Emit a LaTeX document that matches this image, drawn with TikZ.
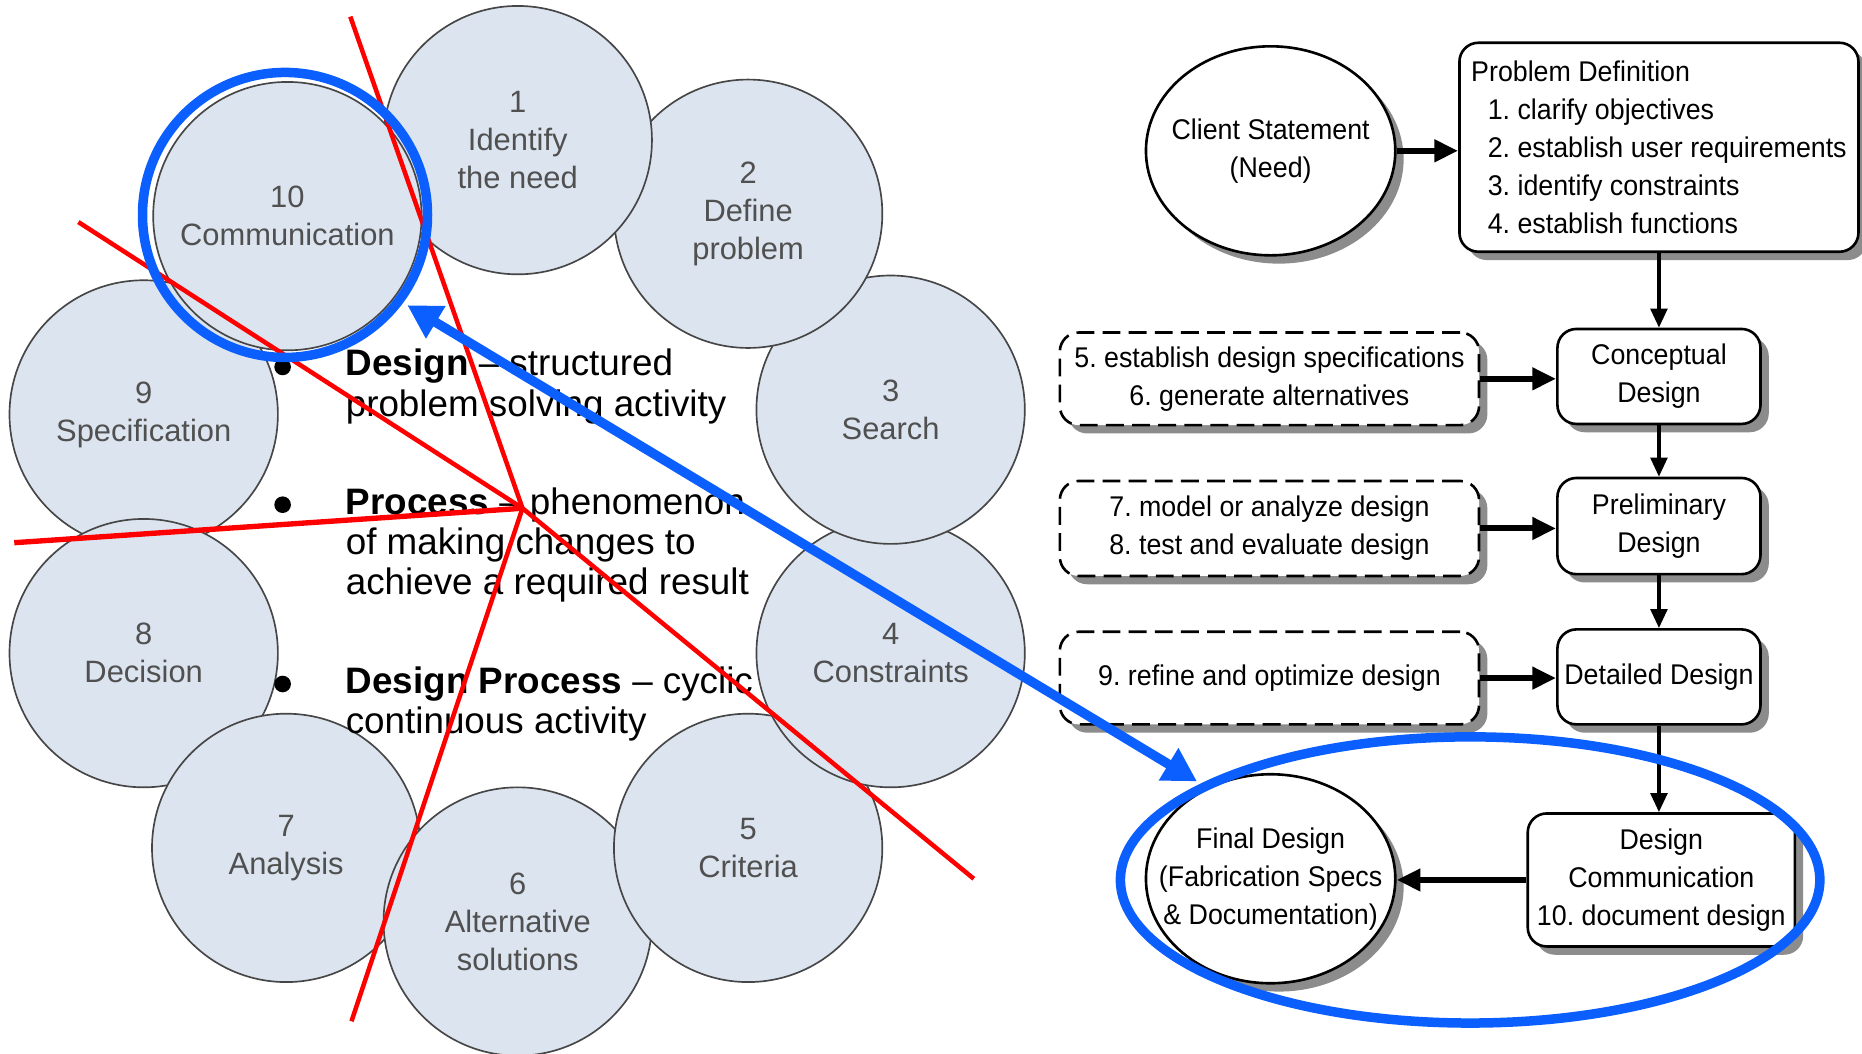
\documentclass[tikz,border=0pt]{standalone}
\usepackage{fontspec}
\setmainfont{Liberation Sans}
\newfontfamily\flowfont[FakeStretch=0.94]{Liberation Sans}
\usetikzlibrary{arrows.meta,shapes.geometric,shadows}
\definecolor{cfill}{RGB}{220,228,239}
\definecolor{ctext}{RGB}{80,80,80}
\definecolor{cline}{RGB}{70,70,70}
\definecolor{myblue}{RGB}{12,95,255}
\definecolor{myred}{RGB}{255,0,0}
\definecolor{shadowgray}{RGB}{140,140,140}
\begin{document}
\frenchspacing
\begin{tikzpicture}[x=1pt,y=-1pt,
  ring/.style={circle,draw=cline,line width=1.4pt,fill=cfill,text=ctext,
    minimum size=226pt,inner sep=0pt,align=center,
    font=\fontsize{26}{32}\selectfont},
  bul/.style={anchor=base west,inner sep=0pt,font=\fontsize{31}{35}\selectfont},
  bdot/.style={circle,fill=black,inner sep=0pt,minimum size=14pt},
  redline/.style={draw=myred,line width=3.8pt},
  shad/.style={drop shadow={shadow xshift=7pt,shadow yshift=-7pt,fill=shadowgray,opacity=1}},
  fbox/.style={draw=black,line width=2.2pt,rounded corners=16pt,fill=white,
    align=center,inner sep=0pt,font=\flowfont\fontsize{24}{32}\selectfont,shad},
  dbox/.style={fbox,dash pattern=on 15pt off 7pt},
  fell/.style={ellipse,draw=black,line width=2.2pt,fill=white,align=center,
    inner xsep=-25pt,inner ysep=0pt,minimum width=210pt,minimum height=176pt,
    font=\flowfont\fontsize{24}{32}\selectfont,shad},
  harr/.style={line width=5pt,-{Triangle[length=20pt,width=18pt]}},
  varr/.style={line width=3pt,-{Triangle[length=16pt,width=14pt]}},
  bluering/.style={draw=myblue,line width=8pt,inner sep=0pt},
  bluearrow/.style={draw=myblue,line width=8pt,
    {Triangle[length=28pt,width=30pt]}-{Triangle[length=28pt,width=30pt]}}
]
\useasboundingbox (0,0) rectangle (1568,887);
\fill[white] (0,0) rectangle (1568,887);

% ---- ring of circles ----
\node[ring] (c9) at (121,349) {9\\Specification};
\node[ring] (c8) at (121,550) {8\\Decision};
\node[ring] (c7) at (241,714) {7\\Analysis};
\node[ring] (c6) at (436,776) {6\\Alternative\\solutions};
\node[ring] (c5) at (630,714) {5\\Criteria};
\node[ring] (c4) at (750,550) {4\\Constraints};
\node[ring] (c3) at (750,345) {3\\Search};
\node[ring] (c2) at (630,180) {2\\Define\\problem};
\node[ring] (c1) at (436,118) {1\\Identify\\the need};
\node[ring] (c10) at (242,182) {10\\Communication};

% ---- bullet text ----
\node[bdot] (g1) at (238,309) {};
\node[bul] (t1a) at (291,316) {\textbf{Design} – structured};
\node[bul] (t1b) at (291,351) {problem solving activity};
\node[bdot] (g2) at (238,425) {};
\node[bul] (t2a) at (291,433) {\textbf{Process} – phenomenon};
\node[bul] (t2b) at (291,467) {of making changes to};
\node[bul] (t2c) at (291,501) {achieve a required result};
\node[bdot] (g3) at (238,576) {};
\node[bul] (t3a) at (291,584) {\textbf{Design Process} – cyclic};
\node[bul] (t3b) at (291,618) {continuous activity};

% ---- red lines ----
\coordinate (hub) at (440,428);
\coordinate (r1) at (295,14);
\coordinate (r2) at (66,187);
\coordinate (r3) at (12,457);
\coordinate (r4) at (296,860);
\coordinate (r5) at (820,740);
\draw[redline] (hub) -- (r1);
\draw[redline] (hub) -- (r2);
\draw[redline,line width=4.5pt] (hub) -- (r3);
\draw[redline] (hub) -- (r4);
\draw[redline] (hub) -- (r5);

% ---- flowchart ----
\node[fell] (cs) at (1070,127) {Client Statement\\(Need)};
\node[fbox,align=left,minimum width=336pt,minimum height=176pt] (pd) at (1397,124)
  {Problem Definition\\
   \hspace*{14pt}1. clarify objectives\\
   \hspace*{14pt}2. establish user requirements\\
   \hspace*{14pt}3. identify constraints\\
   \hspace*{14pt}4. establish functions};
\node[fbox,minimum width=171pt,minimum height=80pt] (cd) at (1397,317) {Conceptual\\Design};
\node[dbox,minimum width=353pt,minimum height=78pt] (d1) at (1069,319)
  {5. establish design specifications\\6. generate alternatives};
\node[fbox,minimum width=171pt,minimum height=81pt] (prd) at (1397,443) {Preliminary\\Design};
\node[dbox,minimum width=353pt,minimum height=80pt] (d2) at (1069,445)
  {7. model or analyze design\\8. test and evaluate design};
\node[fbox,minimum width=171pt,minimum height=80pt] (dd) at (1397,570) {Detailed Design};
\node[dbox,minimum width=353pt,minimum height=78pt] (d3) at (1069,571)
  {9. refine and optimize design};
\node[fbox,minimum width=225pt,minimum height=112pt] (dc) at (1399,741)
  {Design\\Communication\\10. document design};
\node[fell] (fd) at (1070,740) {Final Design\\(Fabrication Specs\\\& Documentation)};

\draw[harr] (cs.east) -- (cs.east -| pd.west);
\draw[varr] (pd.south) -- (cd.north);
\draw[harr] (d1.east) -- (d1.east -| cd.west);
\draw[varr] (cd.south) -- (prd.north);
\draw[harr] (d2.east) -- (d2.east -| prd.west);
\draw[varr] (prd.south) -- (dd.north);
\draw[harr] (d3.east) -- (d3.east -| dd.west);
\draw[varr] (dd.south) -- (dd.south |- dc.north);
\draw[harr] (dc.west) -- (dc.west -| fd.east);

% ---- blue highlights ----
\node[bluering,circle,minimum size=240pt] (hl1) at (240,181) {};
\node[bluering,ellipse,minimum width=589pt,minimum height=241pt] (hl2) at (1238,741) {};
\coordinate (ba1) at (343,257);
\coordinate (ba2) at (1008,658);
\draw[bluearrow] (ba1) -- (ba2);
\end{tikzpicture}
\end{document}
